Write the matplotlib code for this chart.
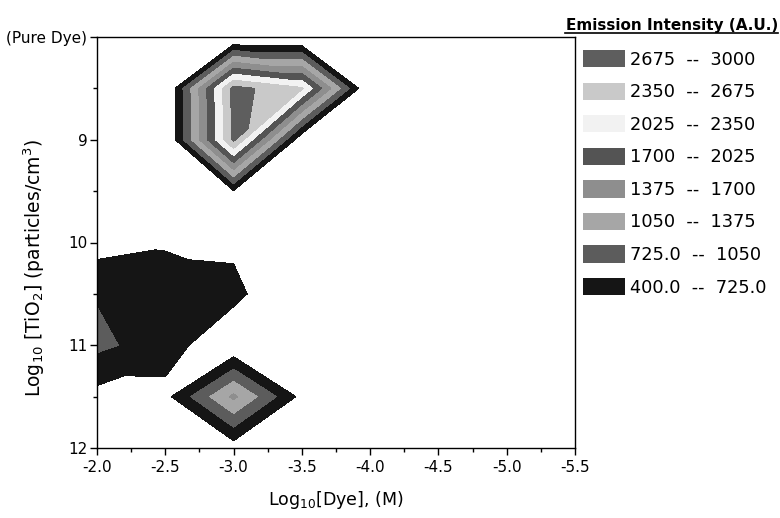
import numpy as np
import matplotlib
matplotlib.use("Agg")
import matplotlib.pyplot as plt
import matplotlib.tri as mtri
from matplotlib.patches import Patch
from matplotlib.lines import Line2D

plt.rcParams["font.family"] = ["DejaVu Sans"]

# grid of measurements: Log10[Dye] (columns) x Log10[TiO2] (rows)
log_dye = [-2.0, -2.5, -3.0, -3.5, -4.0, -4.5, -5.0, -5.5]
log_tio2 = [8.0, 8.5, 9.0, 9.5, 10.0, 10.5, 11.0, 11.5, 12.0]
intensity = [
    [0, 0, 0, 0, 0, 0, 0, 0],
    [0, 0, 2800, 2400, 0, 0, 0, 0],
    [0, 0, 2750, 130, 0, 0, 0, 0],
    [0, 0, 380, 0, 0, 0, 0, 0],
    [250, 350, 330, 0, 0, 0, 0, 0],
    [700, 650, 500, 0, 0, 0, 0, 0],
    [800, 560, 100, 0, 0, 0, 0, 0],
    [290, 300, 1450, 300, 0, 0, 0, 0],
    [0, 0, 230, 0, 0, 0, 0, 0],
]
levels = [400, 725, 1050, 1375, 1700, 2025, 2350, 2675, 3000]
band_labels = ["400.0  --  725.0", "725.0  --  1050", "1050  --  1375", "1375  --  1700",
               "1700  --  2025", "2025  --  2350", "2350  --  2675", "2675  --  3000"]
band_colors = ["#151515", "#5c5c5c", "#a6a6a6", "#8e8e8e",
               "#545454", "#f2f2f2", "#c9c9c9", "#5e5e5e"]

X, Y = np.meshgrid(log_dye, log_tio2)
Z = np.array(intensity, dtype=float)
x, y, z = X.ravel(), Y.ravel(), Z.ravel()
nx, ny = len(log_dye), len(log_tio2)

# split every grid cell along the diagonal with the smaller jump
tris = []
for j in range(ny - 1):
    for i in range(nx - 1):
        a = j * nx + i
        b = a + 1
        c = a + nx
        d = c + 1
        if abs(z[a] - z[d]) <= abs(z[b] - z[c]):
            tris += [[a, b, d], [a, d, c]]
        else:
            tris += [[a, b, c], [b, d, c]]
tri = mtri.Triangulation(x, y, tris)

fig = plt.figure(figsize=(7.8, 5.18), dpi=100)
ax = fig.add_axes([97 / 780, 1 - 448 / 518, 478 / 780, 411 / 518])
ax.tricontourf(tri, z, levels=levels, colors=band_colors)

ax.set_xlim(-2.0, -5.5)
ax.set_ylim(12, 8)
ax.set_xticks([-2.0, -2.5, -3.0, -3.5, -4.0, -4.5, -5.0, -5.5])
ax.set_xticklabels(["-2.0", "-2.5", "-3.0", "-3.5", "-4.0", "-4.5", "-5.0", "-5.5"])
ax.set_xticks(np.arange(-2.25, -5.5, -0.5), minor=True)
ax.set_yticks([8, 9, 10, 11, 12])
ax.set_yticklabels(["(Pure Dye)", "9", "10", "11", "12"])
ax.set_yticks([8.5, 9.5, 10.5, 11.5], minor=True)
ax.tick_params(which="major", direction="out", length=5, width=1, labelsize=11)
ax.tick_params(axis="y", which="major", pad=2)
ax.tick_params(which="minor", direction="out", length=3, width=1)
for s in ax.spines.values():
    s.set_linewidth(1)

ax.set_xlabel("Log$_{10}$[Dye], (M)", fontsize=12.5, labelpad=10)
ax.set_ylabel("Log$_{10}$ [TiO$_2$] (particles/cm$^3$)", fontsize=13.5)
ax.yaxis.set_label_coords((47 - 97) / 478, (448 - 268) / 411)

handles = [Patch(facecolor=c, edgecolor="none") for c in band_colors][::-1]
fig.legend(handles, band_labels[::-1], loc="upper left",
           bbox_to_anchor=(583 / 780, 1 - 50 / 518), frameon=False,
           fontsize=12.8, handlelength=2.36, handleheight=1.12, handletextpad=0.3,
           labelspacing=0.78, borderpad=0, borderaxespad=0)

fig.text(778 / 780, 1 - 30 / 518, "Emission Intensity (A.U.)", ha="right", va="baseline",
         fontsize=11, fontweight="bold")
fig.add_artist(Line2D([565 / 780, 778 / 780], [1 - 33 / 518, 1 - 33 / 518],
                      color="black", linewidth=1.2))

fig.savefig("out.png", dpi=100)
